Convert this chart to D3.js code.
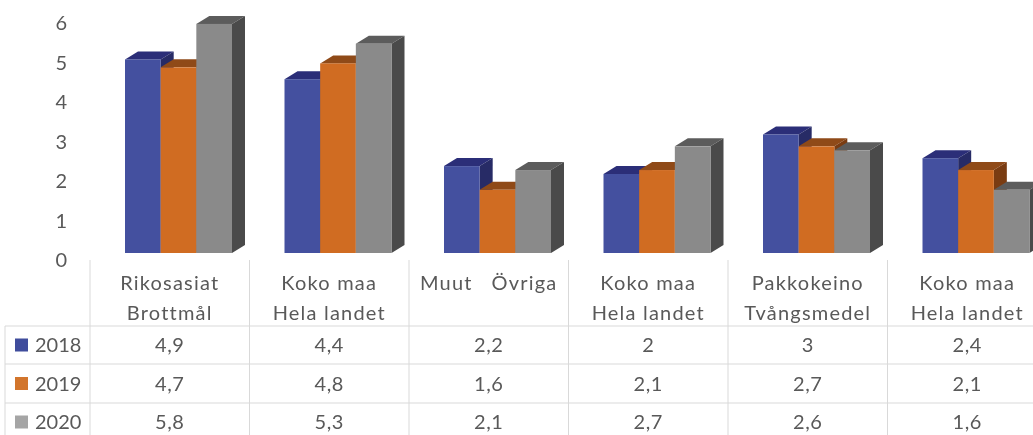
<!DOCTYPE html>
<meta charset="utf-8">
<script src="https://d3js.org/d3.v7.min.js"></script>
<style>
body { margin: 0; background: #fff; }
svg { display: block; filter: blur(0.6px); }
text { font-family: Lato, "Open Sans", sans-serif; font-size: 20px; fill: #595959; }
.cat { letter-spacing: 1.2px; }
.num { letter-spacing: 0.6px; }
</style>
<body>
<div id="my_dataviz"></div>
<script>
var categories = [
  ["Rikosasiat", "Brottmål"],
  ["Koko maa", "Hela landet"],
  ["Muut   Övriga"],
  ["Koko maa", "Hela landet"],
  ["Pakkokeino", "Tvångsmedel"],
  ["Koko maa", "Hela landet"]
];
var years = ["2018", "2019", "2020"];
var values2018 = [4.9, 4.4, 2.2, 2, 3, 2.4];
var values2019 = [4.7, 4.8, 1.6, 2.1, 2.7, 2.1];
var values2020 = [5.8, 5.3, 2.1, 2.7, 2.6, 1.6];
var yTicks = [0, 1, 2, 3, 4, 5, 6];

var allValues = [values2018, values2019, values2020];
var frontColors = ["#44509f", "#d06c22", "#8a8a8a"];
var topColors = ["#2b2e78", "#8f4a18", "#5c5c5c"];
var sideColors = ["#272b66", "#7a3c12", "#4a4a4a"];
var swatchColors = ["#3f4c9c", "#d2752c", "#a5a5a5"];

var width = 1033, height = 435;
var depthX = 13, depthY = 8;
var rowY = [326, 364, 403, 441];

var svg = d3.select("#my_dataviz")
  .append("svg")
    .attr("width", width)
    .attr("height", height);

// one table column per category
var x = d3.scaleBand()
  .domain(d3.range(categories.length))
  .range([90, 1047]);

var xBar = d3.scaleBand()
  .domain(d3.range(years.length))
  .range([35, 142]);

var y = d3.scaleLinear()
  .domain([0, 6])
  .range([253, 16]);

// Y axis, the labels sit a bit lower than the bar fronts
svg.append("g")
  .attr("transform", "translate(67,7.5)")
  .call(d3.axisLeft(y).tickValues(yTicks).tickSize(0).tickPadding(0).tickFormat(d3.format("d")))
  .call(function(g) { g.select(".domain").remove(); })
  .selectAll("text")
    .style("font-size", "20px")
    .style("font-family", "Lato, sans-serif");

// table lines
var lines = svg.append("g").attr("stroke", "#d9d9d9").attr("stroke-width", 1);
d3.range(categories.length + 1).forEach(function(i) {
  var lx = i < categories.length ? x(i) : 1047;
  lines.append("line")
    .attr("x1", lx).attr("x2", lx)
    .attr("y1", 260).attr("y2", height);
});
rowY.slice(0, 3).forEach(function(ry) {
  lines.append("line")
    .attr("x1", 5).attr("x2", width)
    .attr("y1", ry).attr("y2", ry);
});
lines.append("line")
  .attr("x1", 5).attr("x2", 5)
  .attr("y1", rowY[0]).attr("y2", height);

// 3D bars, each series draws top, side and front so the next one covers it
var bars = svg.append("g");
categories.forEach(function(c, i) {
  years.forEach(function(year, s) {
    var v = allValues[s][i];
    var x0 = x(i) + xBar(s);
    var x1 = x0 + xBar.bandwidth();
    var y0 = y(v);
    var y1 = y(0);
    bars.append("polygon")
      .attr("fill", topColors[s])
      .attr("points", [[x0, y0], [x0 + depthX, y0 - depthY], [x1 + depthX, y0 - depthY], [x1, y0]].join(" "));
    bars.append("polygon")
      .attr("fill", sideColors[s])
      .attr("points", [[x1, y0], [x1 + depthX, y0 - depthY], [x1 + depthX, y1 - depthY], [x1, y1]].join(" "));
    bars.append("rect")
      .attr("x", x0)
      .attr("y", y0)
      .attr("width", xBar.bandwidth())
      .attr("height", y1 - y0)
      .attr("fill", frontColors[s]);
  });
});

// category labels
categories.forEach(function(c, i) {
  c.forEach(function(line, k) {
    svg.append("text")
      .attr("class", "cat")
      .attr("x", x(i) + x.bandwidth() / 2)
      .attr("y", 283 + k * 30)
      .attr("dy", "0.35em")
      .attr("text-anchor", "middle")
      .style("white-space", "pre")
      .text(line);
  });
});

// legend keys and data rows
years.forEach(function(year, s) {
  var cy = (rowY[s] + rowY[s + 1]) / 2;
  svg.append("rect")
    .attr("x", 15).attr("y", cy - 6.5)
    .attr("width", 13).attr("height", 13)
    .attr("fill", swatchColors[s]);
  svg.append("text")
    .attr("x", 35).attr("y", cy)
    .attr("dy", "0.35em")
    .text(year);
  allValues[s].forEach(function(v, i) {
    svg.append("text")
      .attr("class", "num")
      .attr("x", x(i) + x.bandwidth() / 2)
      .attr("y", cy)
      .attr("dy", "0.35em")
      .attr("text-anchor", "middle")
      .text(String(v).replace(".", ","));
  });
});
</script>
</body>
